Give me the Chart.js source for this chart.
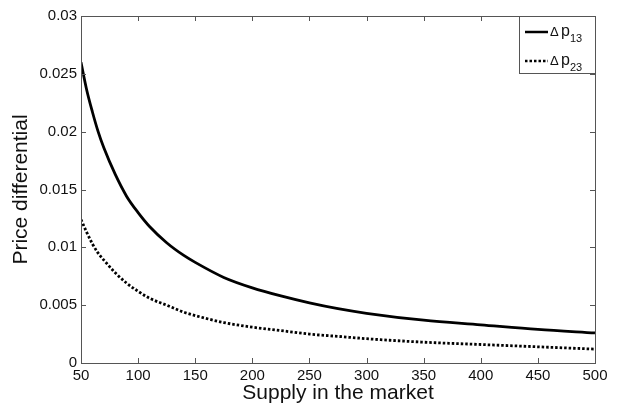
<!DOCTYPE html>
<html>
<head>
<meta charset="utf-8">
<script src="https://cdn.jsdelivr.net/npm/chart.js@4.4.1/dist/chart.umd.min.js"></script>
<style>
  html, body { margin: 0; padding: 0; background: #fff; }
  #wrap { width: 622px; height: 408px; }
</style>
</head>
<body>
<div id="wrap"><canvas id="c" width="622" height="408"></canvas></div>
<script>
// supply values (x) and read-off price differentials
const supply = [50, 55, 60, 65, 70, 80, 90, 100, 110, 125, 140, 150, 175, 200, 225, 250, 275, 300, 350, 400, 450, 500];
const dp13 = [0.0260, 0.0236, 0.0217, 0.0200, 0.0186, 0.0163, 0.0144, 0.0130, 0.0118, 0.0104, 0.0093, 0.0087,
              0.0074, 0.0065, 0.0058, 0.0052, 0.0047, 0.0043, 0.0037, 0.0033, 0.0029, 0.0026];
const dp23 = [0.0124, 0.0113, 0.0103, 0.0095, 0.0089, 0.0078, 0.0069, 0.0062, 0.0056, 0.0050, 0.0044, 0.0041,
              0.0035, 0.0031, 0.0028, 0.0025, 0.0023, 0.0021, 0.0018, 0.0016, 0.0014, 0.0012];
const xTicks = [50, 100, 150, 200, 250, 300, 350, 400, 450, 500];
const yTicks = [0, 0.005, 0.01, 0.015, 0.02, 0.025, 0.03];
const yTickLabels = ['0', '0.005', '0.01', '0.015', '0.02', '0.025', '0.03'];

const FONT = 'Liberation Sans, Arial, Helvetica, sans-serif';
const AXIS_COLOR = '#555';

function pts(ys) {
    return supply.map((x, i) => ({x: x, y: ys[i]}));
}

// box + inward tick marks (matlab style) + legend with subscripts
const matlabBox = {
    id: 'matlabBox',
    afterDraw(chart) {
        const ctx = chart.ctx;
        const a = chart.chartArea;
        const xs = chart.scales.x, ys = chart.scales.y;
        ctx.save();
        ctx.strokeStyle = AXIS_COLOR;
        ctx.lineWidth = 1;
        ctx.strokeRect(a.left + 0.5, a.top + 0.5, a.right - a.left, a.bottom - a.top);
        ctx.beginPath();
        xTicks.forEach(v => {
            const px = Math.round(xs.getPixelForValue(v)) + 0.5;
            ctx.moveTo(px, a.bottom); ctx.lineTo(px, a.bottom - 5);
            ctx.moveTo(px, a.top); ctx.lineTo(px, a.top + 5);
        });
        yTicks.forEach(v => {
            const py = Math.round(ys.getPixelForValue(v)) + 0.5;
            ctx.moveTo(a.left, py); ctx.lineTo(a.left + 5, py);
            ctx.moveTo(a.right, py); ctx.lineTo(a.right - 5, py);
        });
        ctx.stroke();

        // legend
        const lw = 76, lh = 57;
        const lx = a.right - lw, ly = a.top;
        ctx.fillStyle = '#fff';
        ctx.fillRect(lx, ly, lw, lh);
        ctx.strokeRect(lx + 0.5, ly + 0.5, lw, lh);
        const rows = [
            {sub: '13', dash: [], y: ly + 16},
            {sub: '23', dash: [2.5, 2], y: ly + 45}
        ];
        rows.forEach(r => {
            ctx.strokeStyle = '#000';
            ctx.lineWidth = 2.5;
            ctx.setLineDash(r.dash);
            ctx.beginPath();
            ctx.moveTo(lx + 6, r.y);
            ctx.lineTo(lx + 29, r.y);
            ctx.stroke();
            ctx.setLineDash([]);
            ctx.fillStyle = '#111';
            ctx.textBaseline = 'alphabetic';
            ctx.font = '13px ' + FONT;
            ctx.fillText('\u0394', lx + 31, r.y + 4);
            ctx.font = '16px ' + FONT;
            ctx.fillText('p', lx + 42, r.y + 4);
            ctx.font = '11px ' + FONT;
            ctx.fillText(r.sub, lx + 51, r.y + 10);
        });
        ctx.restore();
    }
};

new Chart(document.getElementById('c'), {
    type: 'line',
    data: {
        datasets: [
            {
                label: '\u0394 p13',
                data: pts(dp13),
                borderColor: '#000',
                borderWidth: 2.8,
                pointRadius: 0,
                fill: false,
                cubicInterpolationMode: 'monotone'
            },
            {
                label: '\u0394 p23',
                data: pts(dp23),
                borderColor: '#000',
                borderWidth: 2.8,
                borderDash: [2.5, 2],
                pointRadius: 0,
                fill: false,
                cubicInterpolationMode: 'monotone'
            }
        ]
    },
    options: {
        responsive: false,
        animation: false,
        layout: {padding: {top: 16, right: 27, left: 0, bottom: 0}},
        plugins: {legend: {display: false}, tooltip: {enabled: false}},
        scales: {
            x: {
                type: 'linear',
                min: 50, max: 500,
                afterBuildTicks: s => { s.ticks = xTicks.map(v => ({value: v})); },
                afterFit: s => { s.height = 45; },
                grid: {display: false, drawTicks: false, tickLength: 0},
                border: {display: false},
                ticks: {color: '#111', font: {family: FONT, size: 15}, padding: 4, maxRotation: 0},
                title: {display: true, text: 'Supply in the market', color: '#111',
                        font: {family: FONT, size: 21}, padding: {top: 0, bottom: 2}}
            },
            y: {
                min: 0, max: 0.03,
                afterBuildTicks: s => { s.ticks = yTicks.map(v => ({value: v})); },
                afterFit: s => { s.width = 81; },
                grid: {display: false, drawTicks: false, tickLength: 0},
                border: {display: false},
                ticks: {color: '#111', font: {family: FONT, size: 15}, padding: 4,
                        callback: (v) => yTickLabels[yTicks.indexOf(v)]},
                title: {display: true, text: 'Price differential', color: '#111',
                        font: {family: FONT, size: 21}, padding: {top: 9, bottom: 0}}
            }
        }
    },
    plugins: [matlabBox]
});
</script>
</body>
</html>
